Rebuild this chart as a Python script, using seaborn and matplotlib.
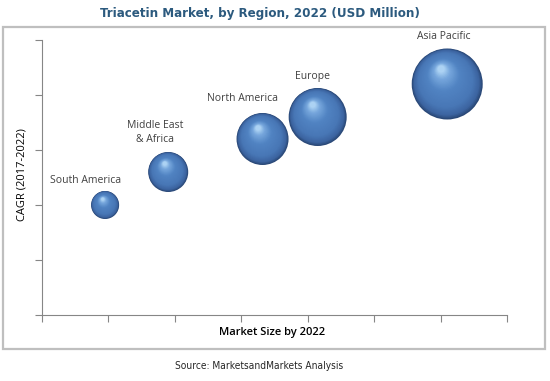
import numpy as np
import pandas as pd
import matplotlib
matplotlib.use("Agg")
import matplotlib.pyplot as plt
import matplotlib.transforms as mtransforms
from matplotlib.patches import Rectangle
from matplotlib.colors import LinearSegmentedColormap
import seaborn as sns

regions = ["South America", "Middle East\n& Africa", "North America", "Europe", "Asia Pacific"]
market_size = [0.95, 1.9, 3.32, 4.15, 6.1]
cagr = [2.0, 2.6, 3.2, 3.6, 4.2]
bubble_size = [14, 20, 26, 29, 35.5]
x_ticks = [0, 1, 2, 3, 4, 5, 6, 7]
y_ticks = [0, 1, 2, 3, 4, 5]

sns.set_theme(style="white")
plt.rcParams['font.family'] = ['Open Sans', 'DejaVu Sans']

df = pd.DataFrame({"region": regions, "size": market_size, "cagr": cagr, "r": bubble_size})

fig = plt.figure(figsize=(5.5, 3.81), dpi=100)
ax = fig.add_axes([42/550, 1-315/381, (507-42)/550, (315-40)/381])

# outer frame
fig.patches.append(Rectangle((3/550, 1-349/381), 542/550, 322/381, transform=fig.transFigure,
                             fill=False, edgecolor="#bfbfbf", linewidth=1.6))

px2pt = 72/100
sizes_map = {r: (2*rv*px2pt)**2 for r, rv in zip(regions, bubble_size)}
sns.scatterplot(data=df, x="size", y="cagr", size="region", sizes=sizes_map,
                color="#2a4877", edgecolor="none", legend=False, ax=ax, zorder=2)

cmap = LinearSegmentedColormap.from_list(
    "sph", [(0.0, "#2a4877"), (0.08, "#3c64a0"), (0.25, "#4877b6"), (0.6, "#5184c3"),
            (0.85, "#76a6dc"), (1.0, "#acd2f3")])
N = 36
for xv, yv, rv in zip(market_size, cagr, bubble_size):
    R = rv*px2pt
    for k in range(1, N+1):
        f = k/N
        d = 2*R*(1-0.9*f)
        dx = -0.17*R*f
        dy = 0.42*R*f
        tr = ax.transData + mtransforms.ScaledTranslation(dx/72, dy/72, fig.dpi_scale_trans)
        ax.scatter([xv], [yv], s=d**2, color=cmap(f), edgecolor="none",
                   transform=tr, zorder=3)

# labels above bubbles
label_offsets = [(-0.3, 0.45), (-0.2, 0.72), (-0.3, 0.74), (-0.08, 0.74), (-0.05, 0.86)]
for name, xv, yv, (ox, oy) in zip(regions, market_size, cagr, label_offsets):
    ax.text(xv+ox, yv+oy, name, ha="center", va="center", fontsize=7.5, color="#404040",
            linespacing=1.4)

ax.set_xlim(0, 7)
ax.set_ylim(0, 5)
ax.set_xticks(x_ticks)
ax.set_yticks(y_ticks)
ax.set_xticklabels([])
ax.set_yticklabels([])
ax.tick_params(axis="both", which="both", direction="out", length=5, width=0.8,
               color="#868686", bottom=True, left=True)
for side in ["top", "right"]:
    ax.spines[side].set_visible(False)
for side in ["left", "bottom"]:
    ax.spines[side].set_color("#868686")
    ax.spines[side].set_linewidth(0.8)
ax.set_xlabel("")
ax.set_ylabel("")

fig.text(22/550, 1-175/381, "CAGR (2017-2022)", rotation=90, ha="center", va="center",
         fontsize=8, color="black")
fig.text(272/550, 1-333/381, "Market Size by 2022", ha="center", va="center",
         fontsize=8, color="black", fontweight="semibold")
fig.text(260/550, 1-13/381, "Triacetin Market, by Region, 2022 (USD Million)", ha="center",
         va="center", fontsize=9.5, fontweight="bold", color="#2c5a7e",
         family=["DejaVu Sans"], fontstretch="condensed")
fig.text(259/550, 1-366/381, "Source: MarketsandMarkets Analysis", ha="center", va="center",
         fontsize=7.3, color="#262626", family=["DejaVu Sans"], fontstretch="condensed")

fig.savefig("out.png", dpi=100)
